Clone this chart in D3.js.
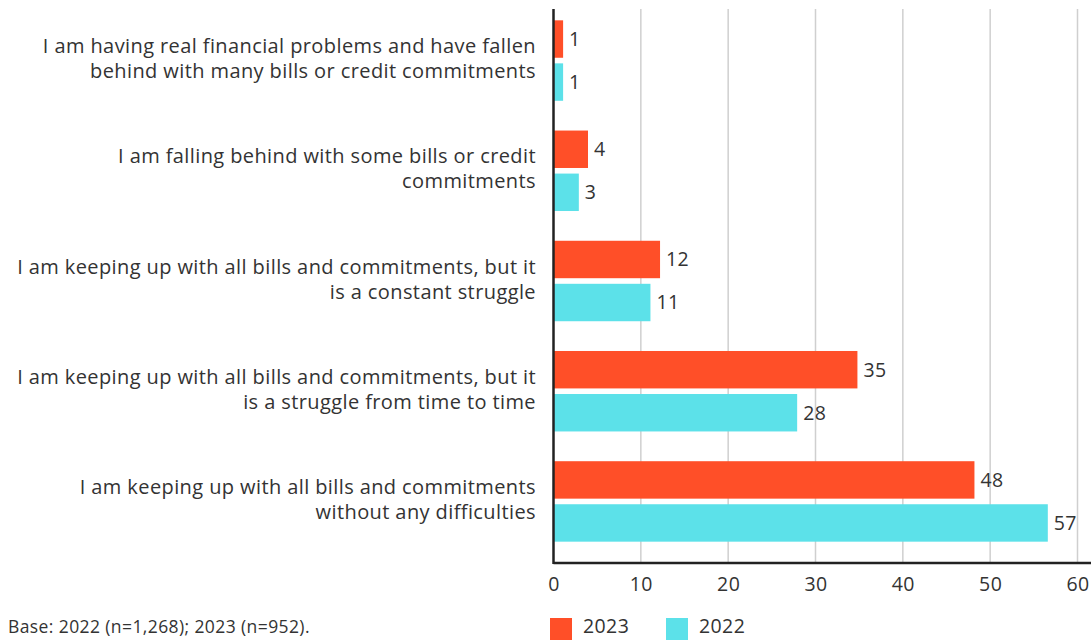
<!DOCTYPE html>
<html><head><meta charset="utf-8">
<script src="https://cdn.jsdelivr.net/npm/d3@7"></script>
<style>body{margin:0;background:#fff;}svg{display:block;font-family:"Open Sans",sans-serif;}text{letter-spacing:0.4px;}</style>
</head><body>
<svg id="c" width="1091" height="640"></svg>
<script>
const categories = [
  ["I am having real financial problems and have fallen","behind with many bills or credit commitments"],
  ["I am falling behind with some bills or credit","commitments"],
  ["I am keeping up with all bills and commitments, but it","is a constant struggle"],
  ["I am keeping up with all bills and commitments, but it","is a struggle from time to time"],
  ["I am keeping up with all bills and commitments","without any difficulties"]
];
const seriesNames = ["2023","2022"];
const values2023 = [1.1, 3.95, 12.2, 34.8, 48.2];
const values2022 = [1.1, 2.9, 11.1, 27.9, 56.6];
const labels2023 = ["1","4","12","35","48"];
const labels2022 = ["1","3","11","28","57"];
const xTicks = [0,10,20,30,40,50,60];
const colors = ["#FF4F28","#5CE1E9"];
const baseNote = "Base: 2022 (n=1,268); 2023 (n=952).";

const svg = d3.select("#c");
const x = d3.scaleLinear().domain([0,60]).range([553.5,1077.5]);
const y = d3.scaleBand().domain(d3.range(categories.length)).range([6,556]).paddingInner(0.27).paddingOuter(0.13);
const ys = d3.scaleBand().domain(seriesNames).range([0,y.bandwidth()]).paddingInner(0.13);
const plotTop = 9, plotBottom = 563;
const txt = "#333";

svg.append("g").selectAll("line").data(xTicks.filter(d=>d>0)).join("line")
  .attr("x1",d=>x(d)).attr("x2",d=>x(d)).attr("y1",plotTop).attr("y2",plotBottom)
  .attr("stroke","#cfcfcf").attr("stroke-width",1.5);

const series = [values2023, values2022];
const labs = [labels2023, labels2022];
seriesNames.forEach((s,si)=>{
  const g = svg.append("g");
  g.selectAll("rect").data(series[si]).join("rect")
    .attr("x",x(0)).attr("y",(d,i)=>y(i)+ys(s))
    .attr("width",d=>x(d)-x(0)).attr("height",ys.bandwidth())
    .attr("fill",colors[si]);
  g.selectAll("text").data(series[si]).join("text")
    .attr("x",d=>x(d)+6).attr("y",(d,i)=>y(i)+ys(s)+ys.bandwidth()/2)
    .attr("dy","0.35em").attr("font-size",19.5).attr("fill",txt)
    .text((d,i)=>labs[si][i]);
});

const xAxis = d3.axisBottom(x).tickValues(xTicks).tickSize(0).tickPadding(14);
const ax = svg.append("g").attr("transform",`translate(0,${plotBottom})`).call(xAxis);
ax.select(".domain").remove();
ax.selectAll("text").attr("font-size",19.5).attr("fill",txt).attr("font-family","'Open Sans',sans-serif");
svg.append("line").attr("x1",553.5).attr("x2",1091).attr("y1",plotBottom).attr("y2",plotBottom).attr("stroke","#222").attr("stroke-width",2.5);
svg.append("line").attr("x1",553.5).attr("x2",553.5).attr("y1",plotTop).attr("y2",plotBottom+1).attr("stroke","#222").attr("stroke-width",2.5);

const cl = svg.append("g");
categories.forEach((lines,i)=>{
  const cy = y(i)+y.bandwidth()/2 - 2;
  const t = cl.append("text").attr("text-anchor","end").attr("font-size",20).attr("fill",txt);
  lines.forEach((ln,li)=>{
    t.append("tspan").attr("x",536).attr("y",cy + (li-(lines.length-1)/2)*25).attr("dy","0.35em").text(ln);
  });
});

const lg = svg.append("g");
const lx = [550,666];
seriesNames.forEach((s,si)=>{
  lg.append("rect").attr("x",lx[si]).attr("y",618).attr("width",22).attr("height",22).attr("fill",colors[si]);
  lg.append("text").attr("x",lx[si]+33).attr("y",626).attr("dy","0.35em").attr("font-size",19.5).attr("fill",txt).text(s);
});
svg.append("text").attr("x",8).attr("y",627).attr("dy","0.35em").attr("font-size",17.5).attr("fill",txt).text(baseNote);
</script>
</body></html>
